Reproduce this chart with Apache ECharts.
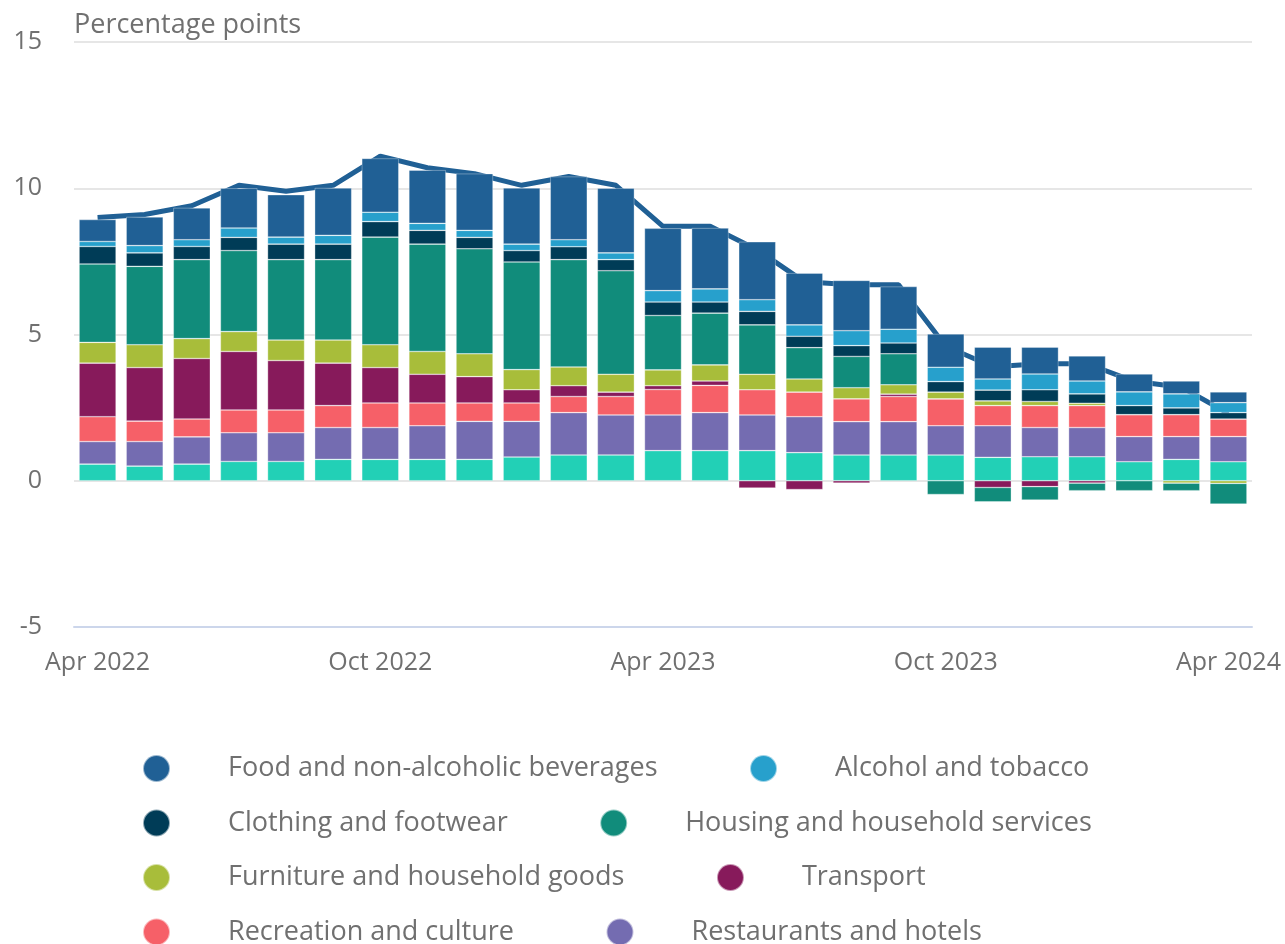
<!DOCTYPE html>
<html>
<head>
<meta charset="utf-8">
<title>Contributions to CPI annual rate</title>
<script src="https://cdn.jsdelivr.net/npm/echarts@6/dist/echarts.min.js"></script>
<style>
  html, body { margin: 0; padding: 0; background: #fff; }
  #chart { width: 1285px; height: 944px; }
</style>
</head>
<body>
<div id="chart"></div>
<script>
const months = [
  "Apr 2022", "May 2022", "Jun 2022", "Jul 2022", "Aug 2022", "Sep 2022",
  "Oct 2022", "Nov 2022", "Dec 2022", "Jan 2023", "Feb 2023", "Mar 2023",
  "Apr 2023", "May 2023", "Jun 2023", "Jul 2023", "Aug 2023", "Sep 2023",
  "Oct 2023", "Nov 2023", "Dec 2023", "Jan 2024", "Feb 2024", "Mar 2024",
  "Apr 2024"
];

// contributions, percentage points
const other       = [0.57, 0.50, 0.57, 0.66, 0.66, 0.73, 0.73, 0.73, 0.73, 0.81, 0.88, 0.88, 1.03, 1.03, 1.03, 0.96, 0.88, 0.88, 0.88, 0.80, 0.82, 0.82, 0.65, 0.73, 0.65];
const restaurants = [0.77, 0.84, 0.93, 0.98, 0.98, 1.09, 1.09, 1.15, 1.30, 1.22, 1.45, 1.37, 1.22, 1.30, 1.22, 1.23, 1.14, 1.14, 1.00, 1.08, 1.00, 1.00, 0.86, 0.78, 0.86];
const recreation  = [0.85, 0.70, 0.61, 0.78, 0.78, 0.75, 0.84, 0.78, 0.63, 0.63, 0.55, 0.63, 0.87, 0.93, 0.86, 0.84, 0.78, 0.86, 0.92, 0.69, 0.75, 0.75, 0.75, 0.75, 0.60];
const transport   = [1.83, 1.83, 2.07, 2.00, 1.69, 1.45, 1.21, 0.98, 0.90, 0.45, 0.37, 0.15, 0.13, 0.15, -0.25, -0.30, -0.08, 0.08, 0.00, -0.23, -0.20, -0.08, 0.00, 0.00, 0.00];
const furniture   = [0.71, 0.78, 0.68, 0.68, 0.70, 0.79, 0.78, 0.78, 0.78, 0.69, 0.64, 0.61, 0.54, 0.55, 0.53, 0.45, 0.38, 0.32, 0.23, 0.16, 0.14, 0.08, 0.00, -0.08, -0.09];
const housing     = [2.68, 2.68, 2.70, 2.77, 2.75, 2.75, 3.68, 3.67, 3.59, 3.68, 3.67, 3.54, 1.86, 1.77, 1.69, 1.07, 1.07, 1.06, -0.47, -0.49, -0.46, -0.26, -0.34, -0.26, -0.71];
const clothing    = [0.60, 0.46, 0.45, 0.45, 0.53, 0.53, 0.53, 0.47, 0.39, 0.39, 0.44, 0.38, 0.46, 0.38, 0.46, 0.39, 0.37, 0.37, 0.36, 0.37, 0.40, 0.32, 0.31, 0.23, 0.22];
const alcohol     = [0.17, 0.25, 0.23, 0.32, 0.24, 0.30, 0.32, 0.24, 0.24, 0.22, 0.24, 0.23, 0.39, 0.45, 0.40, 0.39, 0.51, 0.47, 0.49, 0.38, 0.54, 0.44, 0.47, 0.48, 0.34];
const food        = [0.75, 0.98, 1.09, 1.36, 1.45, 1.62, 1.84, 1.82, 1.94, 1.92, 2.16, 2.21, 2.13, 2.08, 1.98, 1.77, 1.72, 1.46, 1.14, 1.09, 0.92, 0.86, 0.61, 0.44, 0.37];

// CPI 12-month rate, per cent
const cpiRate = [9.0, 9.1, 9.4, 10.1, 9.9, 10.1, 11.1, 10.7, 10.5, 10.1, 10.4, 10.1, 8.7, 8.7, 7.9, 6.8, 6.7, 6.7, 4.6, 3.9, 4.0, 4.0, 3.4, 3.2, 2.3];

const yTicks = [-5, 0, 5, 10, 15];

const textGrey = "#707070";
const font = "'Open Sans', 'Noto Sans', sans-serif";

// bottom of the stack first
const groups = [
  { name: "Other", data: other, color: "#22d0b6" },
  { name: "Restaurants and hotels", data: restaurants, color: "#746cb1" },
  { name: "Recreation and culture", data: recreation, color: "#f66068" },
  { name: "Transport", data: transport, color: "#871a5b" },
  { name: "Furniture and household goods", data: furniture, color: "#a8bd3a" },
  { name: "Housing and household services", data: housing, color: "#118c7b" },
  { name: "Clothing and footwear", data: clothing, color: "#003c57" },
  { name: "Alcohol and tobacco", data: alcohol, color: "#27a0cc" },
  { name: "Food and non-alcoholic beverages", data: food, color: "#206095" }
];

const legendOrder = [
  "Food and non-alcoholic beverages", "Alcohol and tobacco",
  "Clothing and footwear", "Housing and household services",
  "Furniture and household goods", "Transport",
  "Recreation and culture", "Restaurants and hotels",
  "Other", "CPI 12-month rate"
];

const chart = echarts.init(document.getElementById("chart"));

const barSeries = groups.map((g) => ({
  name: g.name,
  type: "bar",
  stack: "total",
  data: g.data,
  barWidth: 37,
  z: 3,
  itemStyle: { color: g.color, borderColor: "rgba(255,255,255,0.55)", borderWidth: 0.6 },
  emphasis: { disabled: true }
}));

chart.setOption({
  animation: false,
  textStyle: { fontFamily: font },
  title: {
    text: "Percentage points",
    left: 74,
    top: 12,
    padding: 0,
    textStyle: { fontFamily: font, fontSize: 27, fontWeight: "normal", color: textGrey }
  },
  legend: {
    data: legendOrder,
    left: 142,
    top: 754,
    width: 1040,
    padding: 0,
    icon: "circle",
    itemWidth: 27,
    itemHeight: 27,
    itemGap: 25.5,
    textStyle: {
      fontFamily: font,
      fontSize: 27,
      color: textGrey,
      lineHeight: 27,
      padding: [0, 66, 0, 53]
    }
  },
  grid: { left: 74, right: 33, top: 42, bottom: 317, containLabel: false },
  xAxis: {
    type: "category",
    data: months,
    boundaryGap: true,
    axisLine: { onZero: false, lineStyle: { color: "#ccd6eb", width: 2 } },
    axisTick: { alignWithLabel: true, interval: 5, length: 21, lineStyle: { color: "#ccd6eb", width: 2 } },
    axisLabel: { interval: 5, margin: 23, fontSize: 25, color: textGrey, fontFamily: font }
  },
  yAxis: {
    type: "value",
    min: yTicks[0],
    max: yTicks[yTicks.length - 1],
    interval: 5,
    axisLine: { show: false },
    axisTick: { show: false },
    axisLabel: { margin: 32, fontSize: 25, color: textGrey, fontFamily: font },
    splitLine: { lineStyle: { color: "#e6e6e6", width: 2 } }
  },
  series: [
    {
      name: "CPI 12-month rate",
      type: "line",
      data: cpiRate,
      z: 1,
      symbol: "none",
      lineStyle: { color: "#206095", width: 5 },
      itemStyle: { color: "#206095" },
      emphasis: { disabled: true }
    },
    ...barSeries
  ]
});

window.addEventListener("resize", () => chart.resize());
</script>
</body>
</html>
